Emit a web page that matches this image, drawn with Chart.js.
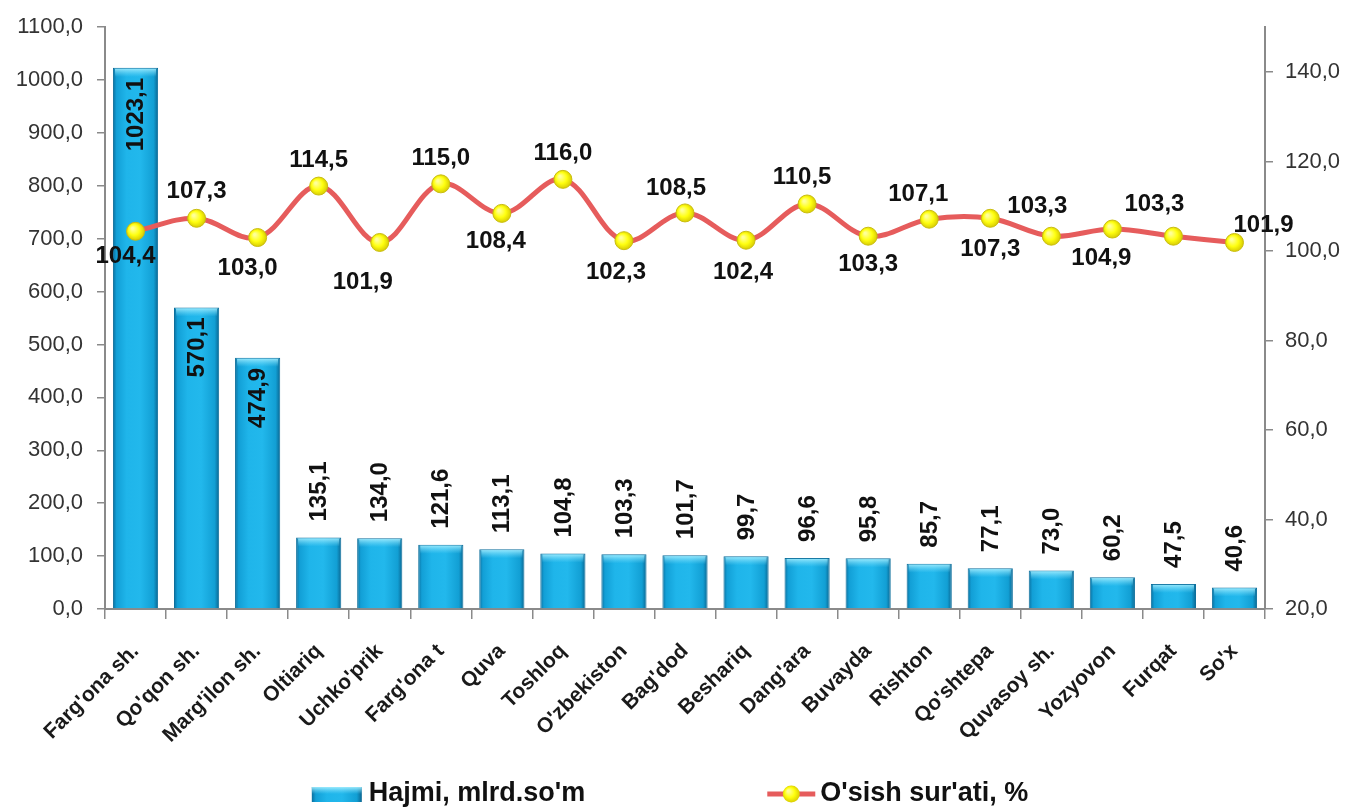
<!DOCTYPE html>
<html>
<head>
<meta charset="utf-8">
<script src="https://cdn.jsdelivr.net/npm/chart.js@4.4.1/dist/chart.umd.min.js"></script>
<style>
  html, body { margin: 0; padding: 0; background: #ffffff; }
  #wrap { width: 1348px; height: 809px; position: relative; }
</style>
</head>
<body>
<div id="wrap"><canvas id="c"></canvas></div>
<script>
// ---- data ----
const categories = ["Farg'ona sh.", "Qo'qon sh.", "Marg'ilon sh.", "Oltiariq", "Uchko'prik", "Farg'ona t", "Quva", "Toshloq", "O'zbekiston", "Bag'dod", "Beshariq", "Dang'ara", "Buvayda", "Rishton", "Qo'shtepa", "Quvasoy sh.", "Yozyovon", "Furqat", "So'x"];
const volumeValues = [1023.1, 570.1, 474.9, 135.1, 134.0, 121.6, 113.1, 104.8, 103.3, 101.7, 99.7, 96.6, 95.8, 85.7, 77.1, 73.0, 60.2, 47.5, 40.6];
const growthValues = [104.4, 107.3, 103.0, 114.5, 101.9, 115.0, 108.4, 116.0, 102.3, 108.5, 102.4, 110.5, 103.3, 107.1, 107.3, 103.3, 104.9, 103.3, 101.9];
const leftAxisTicks = [0, 100, 200, 300, 400, 500, 600, 700, 800, 900, 1000, 1100];
const rightAxisTicks = [20, 40, 60, 80, 100, 120, 140];
const seriesNames = ["Hajmi, mlrd.so'm", "O'sish sur'ati, %"];

// ---- style (label placement, not data) ----
const growthLabelOffsets = [[-10, 25], [0, -27], [-10, 31], [0, -26], [-17, 40], [0, -25], [-6, 28], [0, -26], [-8, 32], [-9, -25], [-3, 32], [-5, -27], [0, 28], [-11, -25], [0, 31], [-14, -30], [-11, 29], [-19, -32], [29, -17]];
const FONT = "'Liberation Sans', Arial, Helvetica, sans-serif";
const fmt = v => v.toFixed(1).replace('.', ',');

function barGradient(ctx, x0, x1) {
  const g = ctx.createLinearGradient(x0, 0, x1, 0);
  g.addColorStop(0, '#0b6f9e');
  g.addColorStop(0.08, '#129fd6');
  g.addColorStop(0.3, '#1fb5ea');
  g.addColorStop(0.6, '#22b8ec');
  g.addColorStop(0.9, '#129fd4');
  g.addColorStop(1, '#0a6590');
  return g;
}

const ctx = document.getElementById('c').getContext('2d');

const labelPlugin = {
  id: 'valueLabels',
  afterDatasetsDraw(chart) {
    const c = chart.ctx;
    // bar top bevel
    const barMeta = chart.getDatasetMeta(1);
    c.save();
    barMeta.data.forEach((el) => {
      const x0 = el.x - el.width / 2, w = el.width;
      const g = c.createLinearGradient(0, el.y, 0, el.y + 9);
      g.addColorStop(0, 'rgba(170,240,255,0.95)');
      g.addColorStop(1, 'rgba(120,220,250,0)');
      c.fillStyle = g;
      c.fillRect(x0 + 2, el.y + 1, w - 4, 9);
    });
    c.restore();

    // bar labels
    c.save();
    c.font = 'bold 24px ' + FONT;
    c.fillStyle = '#111111';
    c.textBaseline = 'middle';
    barMeta.data.forEach((el, i) => {
      const v = volumeValues[i];
      const inside = v > 400;
      c.save();
      if (inside) {
        c.translate(el.x, el.y + 10);
        c.rotate(-Math.PI / 2);
        c.textAlign = 'right';
      } else {
        c.translate(el.x, el.y - 16);
        c.rotate(-Math.PI / 2);
        c.textAlign = 'left';
      }
      c.fillText(fmt(v), 0, 1);
      c.restore();
    });
    c.restore();

    // line labels
    const lineMeta = chart.getDatasetMeta(0);
    c.save();
    c.font = 'bold 24px ' + FONT;
    c.fillStyle = '#111111';
    c.textAlign = 'center';
    c.textBaseline = 'middle';
    lineMeta.data.forEach((el, i) => {
      const o = growthLabelOffsets[i];
      c.fillText(fmt(growthValues[i]), el.x + o[0], el.y + o[1]);
    });
    c.restore();
  }
};

const legendPlugin = {
  id: 'customLegend',
  afterDraw(chart) {
    const c = chart.ctx;
    c.save();
    c.font = 'bold 27px ' + FONT;
    c.textBaseline = 'middle';
    c.textAlign = 'left';
    const w1 = c.measureText(seriesNames[0]).width;
    const w2 = c.measureText(seriesNames[1]).width;
    const box = 50, gapT = 7, lineW = 48, gapT2 = 5, gap = 182;
    const total = box + gapT + w1 + gap + lineW + gapT2 + w2;
    let x = chart.width / 2 - 4 - total / 2;
    const y = chart.height - 15;
    c.fillStyle = barGradient(c, x, x + box);
    c.fillRect(x, y - 7, box, 15);
    const g = c.createLinearGradient(0, y - 7, 0, y);
    g.addColorStop(0, 'rgba(170,240,255,0.9)');
    g.addColorStop(1, 'rgba(120,220,250,0)');
    c.fillStyle = g;
    c.fillRect(x, y - 7, box, 7);
    c.fillStyle = '#111111';
    c.fillText(seriesNames[0], x + box + gapT, y);
    x += box + gapT + w1 + gap;
    c.strokeStyle = '#e65c5c';
    c.lineWidth = 5;
    c.beginPath();
    c.moveTo(x, y);
    c.lineTo(x + lineW, y);
    c.stroke();
    const rg = c.createRadialGradient(x + lineW / 2 - 3, y - 3, 1, x + lineW / 2, y, 9);
    rg.addColorStop(0, '#ffff9a');
    rg.addColorStop(0.5, '#ffff10');
    rg.addColorStop(1, '#d6c800');
    c.fillStyle = rg;
    c.beginPath();
    c.arc(x + lineW / 2, y, 8.5, 0, Math.PI * 2);
    c.fill();
    c.fillStyle = '#111111';
    c.fillText(seriesNames[1], x + lineW + gapT2, y);
    c.restore();
  }
};

new Chart(ctx, {
  data: {
    labels: categories,
    datasets: [
      {
        type: 'line',
        label: seriesNames[1],
        data: growthValues,
        yAxisID: 'y2',
        order: 0,
        borderColor: '#e65c5c',
        borderWidth: 5,
        tension: 0.36,
        pointRadius: 9,
        pointHoverRadius: 9,
        pointBorderWidth: 1,
        pointBorderColor: '#c9bd10',
        pointBackgroundColor: (context) => {
          const ch = context.chart;
          const sx = ch.scales.x, sy = ch.scales.y2;
          if (!sx || !sy) return '#ffff00';
          const px = sx.getPixelForValue(context.dataIndex);
          const py = sy.getPixelForValue(growthValues[context.dataIndex]);
          if (!isFinite(px) || !isFinite(py)) return '#ffff00';
          const g = ch.ctx.createRadialGradient(px - 3, py - 3, 1, px, py, 10);
          g.addColorStop(0, '#ffff9a');
          g.addColorStop(0.5, '#ffff10');
          g.addColorStop(1, '#d0c200');
          return g;
        }
      },
      {
        type: 'bar',
        label: seriesNames[0],
        data: volumeValues,
        yAxisID: 'y',
        order: 1,
        barPercentage: 0.74,
        categoryPercentage: 1.0,
        borderWidth: 1,
        borderColor: '#0d6f9c',
        backgroundColor: (context) => {
          const ch = context.chart;
          const sx = ch.scales.x;
          if (!sx) return '#1fb5ea';
          const px = sx.getPixelForValue(context.dataIndex);
          const w = (sx.width / categories.length) * 0.74;
          if (!isFinite(px) || !isFinite(w)) return '#1fb5ea';
          return barGradient(ch.ctx, px - w / 2, px + w / 2);
        }
      }
    ]
  },
  options: {
    responsive: true,
    maintainAspectRatio: false,
    animation: false,
    events: [],
    layout: { padding: { top: 24, bottom: 41, left: 0, right: 0 } },
    plugins: {
      legend: { display: false },
      tooltip: { enabled: false },
      title: { display: false }
    },
    scales: {
      x: {
        type: 'category',
        offset: true,
        grid: { display: true, drawOnChartArea: false, drawTicks: true, tickLength: 10, color: '#8a8a8a', lineWidth: 1.5, offset: true },
        border: { display: true, color: '#8a8a8a', width: 2 },
        ticks: {
          autoSkip: false, maxRotation: 45, minRotation: 45, padding: 20,
          color: '#1a1a1a', font: { family: FONT, size: 21, weight: 'bold' }
        },
        afterFit: (s) => { s.height = 159; }
      },
      y: {
        type: 'linear',
        position: 'left',
        min: leftAxisTicks[0],
        max: leftAxisTicks[leftAxisTicks.length - 1],
        grid: { display: true, drawOnChartArea: false, drawTicks: true, tickLength: 8, color: '#8a8a8a', lineWidth: 1.5 },
        border: { display: true, color: '#8a8a8a', width: 2 },
        ticks: {
          stepSize: 100, padding: 14, color: '#333333',
          font: { family: FONT, size: 22 },
          callback: (v) => fmt(v)
        },
        afterBuildTicks: (s) => { s.ticks = leftAxisTicks.map(v => ({ value: v })); },
        afterFit: (s) => { s.width = 105; }
      },
      y2: {
        type: 'linear',
        position: 'right',
        min: 20,
        max: 150,
        grid: { display: true, drawOnChartArea: false, drawTicks: true, tickLength: 8, color: '#8a8a8a', lineWidth: 1.5 },
        border: { display: true, color: '#8a8a8a', width: 2 },
        ticks: {
          stepSize: 20, padding: 12, color: '#333333',
          font: { family: FONT, size: 22 },
          callback: (v) => fmt(v)
        },
        afterBuildTicks: (s) => { s.ticks = rightAxisTicks.map(v => ({ value: v })); },
        afterFit: (s) => { s.width = 83; }
      }
    }
  },
  plugins: [labelPlugin, legendPlugin]
});
</script>
</body>
</html>
